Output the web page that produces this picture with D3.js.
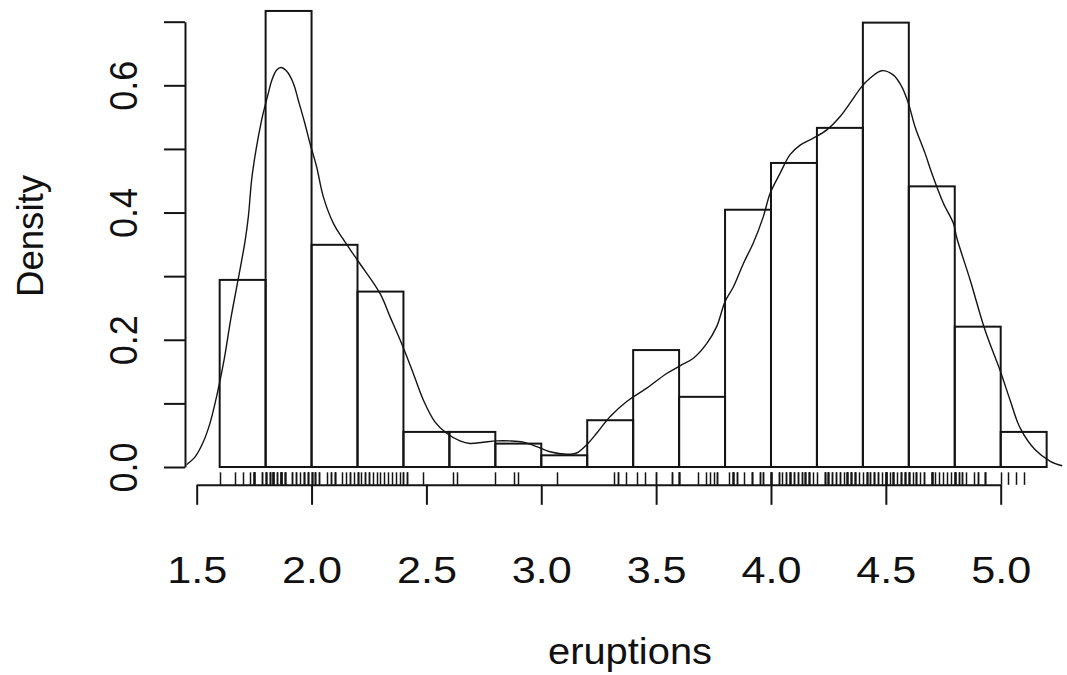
<!DOCTYPE html>
<html><head><meta charset="utf-8">
<script src="https://cdn.jsdelivr.net/npm/d3@7"></script>
<style>body{margin:0;background:#fff}svg{display:block}text{font-family:"Liberation Sans",Arial,sans-serif;fill:#111}</style>
</head><body>
<svg id="c" width="1067" height="675"></svg>
<script>
// Histogram breaks and densities
const breaks = [1.6,1.8,2.0,2.2,2.4,2.6,2.8,3.0,3.2,3.4,3.6,3.8,4.0,4.2,4.4,4.6,4.8,5.0,5.2];
const counts = [16,39,19,15,3,3,2,1,4,10,6,22,26,29,38,24,12,3];
const densities = counts.map(c => c / (272 * 0.2));
// density curve points
const curveX = [1.453,1.493,1.527,1.558,1.588,1.619,1.649,1.680,1.710,1.725,1.739,1.758,1.783,1.797,1.812,1.827,1.848,1.867,1.892,1.921,1.942,1.971,1.993,2.022,2.051,2.095,2.134,2.2,2.298,2.342,2.392,2.443,2.487,2.537,2.588,2.646,2.690,2.748,2.806,2.864,2.922,2.980,3.038,3.111,3.154,3.198,3.241,3.299,3.372,3.459,3.546,3.604,3.662,3.720,3.764,3.800,3.836,3.880,3.923,3.967,3.996,4.040,4.083,4.127,4.184,4.243,4.301,4.344,4.395,4.431,4.482,4.533,4.569,4.598,4.627,4.671,4.700,4.750,4.794,4.809,4.867,4.932,4.997,5.041,5.085,5.150,5.216,5.268];
const curveY = [0.003,0.016,0.038,0.069,0.113,0.168,0.234,0.294,0.354,0.394,0.451,0.498,0.546,0.567,0.588,0.608,0.624,0.628,0.622,0.603,0.577,0.540,0.509,0.472,0.425,0.383,0.360,0.325,0.273,0.236,0.194,0.147,0.105,0.071,0.053,0.041,0.037,0.039,0.041,0.041,0.039,0.032,0.024,0.020,0.022,0.035,0.053,0.079,0.103,0.124,0.147,0.159,0.171,0.194,0.221,0.260,0.283,0.320,0.352,0.394,0.430,0.462,0.491,0.506,0.517,0.530,0.551,0.572,0.598,0.611,0.623,0.616,0.598,0.572,0.535,0.493,0.462,0.415,0.383,0.360,0.294,0.215,0.152,0.105,0.061,0.027,0.009,0.002];
// rug: eruption durations (minutes)
const eruptions = [3.600,1.800,3.333,2.283,4.533,2.883,4.700,3.600,1.950,4.350,1.833,3.917,4.200,1.750,4.700,2.167,1.750,4.800,1.600,4.250,1.800,1.750,3.450,3.067,4.533,3.600,1.967,4.083,3.850,4.433,4.300,4.467,3.367,4.033,3.833,2.017,1.867,4.833,1.833,4.783,4.350,1.883,4.567,1.750,4.533,3.317,3.833,2.100,4.633,2.000,4.800,4.716,1.833,4.833,1.733,4.883,3.717,1.667,4.567,4.317,2.233,4.500,1.750,4.800,1.817,4.400,4.167,4.700,2.067,4.700,4.033,1.967,4.500,4.000,1.983,5.067,2.017,4.567,3.883,3.600,4.133,4.333,4.100,2.633,4.067,4.933,3.950,4.517,2.167,4.000,2.200,4.333,1.867,4.817,1.833,4.300,4.667,3.750,1.867,4.900,2.483,4.367,2.100,4.500,4.050,1.867,4.700,1.783,4.850,3.683,4.733,2.300,4.900,4.417,1.700,4.633,2.317,4.600,1.817,4.417,2.617,4.067,4.250,1.967,4.600,3.767,1.917,4.500,2.267,4.650,1.867,4.167,2.800,4.333,1.833,4.383,1.883,4.933,2.033,3.733,4.233,2.233,4.533,4.817,4.333,1.983,4.633,2.017,5.100,1.800,5.033,4.000,2.400,4.600,3.567,4.000,4.500,4.083,1.800,3.967,2.200,4.150,2.000,3.833,3.500,4.583,2.367,5.000,1.933,4.617,1.917,2.083,4.583,3.333,4.167,4.333,4.500,2.417,4.000,4.167,1.883,4.583,4.250,3.767,2.033,4.433,4.083,1.833,4.417,2.183,4.800,1.833,4.800,4.100,3.966,4.233,3.500,4.366,2.250,4.667,2.100,4.350,4.133,1.867,4.600,1.783,4.367,3.850,1.933,4.500,2.383,4.700,1.867,3.833,3.417,4.233,2.400,4.800,2.000,4.150,1.867,4.267,1.750,4.483,4.000,4.117,4.083,4.267,3.917,4.550,4.083,2.417,4.183,2.217,4.450,1.883,1.850,4.283,3.950,2.333,4.150,2.350,4.933,2.900,4.583,3.833,2.083,4.367,2.133,4.350,2.200,4.450,3.567,4.500,4.150,3.817,3.917,4.450,2.000,4.283,4.767,4.533,1.850,4.250,1.983,2.250,4.750,4.117,2.150,4.417,1.817,4.467];
const xTicks = [1.5,2.0,2.5,3.0,3.5,4.0,4.5,5.0];
const yTicks = [0,0.1,0.2,0.3,0.4,0.5,0.6,0.7];
const yLabels = ["0.0","0.2","0.4","0.6"];
const xTitle = "eruptions", yTitle = "Density";

const svg = d3.select("#c");
const x = d3.scaleLinear().domain([1.5,5.0]).range([196.7,1000.7]);
const y = d3.scaleLinear().domain([0,0.7]).range([467,21.7]);
const plotLeft = x(1.456), plotRight = x(5.344), plotBottom = y(-0.028);
const ink = "#141414";

svg.append("defs").append("clipPath").attr("id","clip").append("rect")
  .attr("x",plotLeft).attr("y",0).attr("width",plotRight-plotLeft).attr("height",plotBottom);

// bars
const bins = densities.map((d,i)=>({x0:breaks[i],x1:breaks[i+1],d}));
svg.append("g").selectAll("rect").data(bins).join("rect")
  .attr("x",b=>x(b.x0)).attr("y",b=>y(b.d))
  .attr("width",b=>x(b.x1)-x(b.x0)).attr("height",b=>y(0)-y(b.d))
  .attr("fill","none").attr("stroke",ink).attr("stroke-width",2);

// density curve
const line = d3.line().x((d,i)=>x(curveX[i])).y(d=>y(d)).curve(d3.curveCatmullRom);
svg.append("path").attr("clip-path","url(#clip)").attr("d",line(curveY))
  .attr("fill","none").attr("stroke",ink).attr("stroke-width",1.4);

// rug
svg.append("g").selectAll("line").data(eruptions).join("line")
  .attr("x1",v=>Math.round(x(v))+0.5).attr("x2",v=>Math.round(x(v))+0.5)
  .attr("y1",plotBottom).attr("y2",plotBottom-12.5)
  .attr("stroke",ink).attr("stroke-width",1.5);

// x axis
const xa = svg.append("g").attr("transform",`translate(0,${plotBottom})`)
  .call(d3.axisBottom(x).tickValues(xTicks).tickFormat(d3.format(".1f")).tickSize(20).tickSizeOuter(0));
xa.select(".domain").attr("stroke",ink).attr("stroke-width",2);
xa.selectAll(".tick line").attr("stroke",ink).attr("stroke-width",2);
xa.selectAll(".tick text").attr("font-size",36).attr("font-family","Liberation Sans, Arial, sans-serif")
  .attr("fill",ink).attr("y",98).attr("dy",0)
  .attr("textLength",60).attr("lengthAdjust","spacingAndGlyphs");

// y axis
const ya = svg.append("g").attr("transform",`translate(185,0)`)
  .call(d3.axisLeft(y).tickValues(yTicks).tickFormat(d=>{const s=d3.format(".1f")(d);return yLabels.includes(s)?s:"";}).tickSize(21).tickSizeOuter(0));
ya.select(".domain").attr("stroke",ink).attr("stroke-width",2);
ya.selectAll(".tick line").attr("stroke",ink).attr("stroke-width",2);
ya.selectAll(".tick text").attr("font-size",39).attr("font-family","Liberation Sans, Arial, sans-serif")
  .attr("fill",ink).attr("x",0).attr("dy",0).attr("text-anchor","middle")
  .attr("transform","translate(-48,0) rotate(-90)")
  .attr("textLength",function(){return this.textContent ? 50 : null;}).attr("lengthAdjust","spacingAndGlyphs");

// titles
svg.append("text").attr("x",630).attr("y",664).attr("text-anchor","middle").attr("font-size",37)
  .attr("textLength",164).attr("lengthAdjust","spacingAndGlyphs").text(xTitle);
svg.append("text").attr("transform","translate(43,236) rotate(-90)").attr("text-anchor","middle").attr("font-size",37)
  .attr("textLength",122).attr("lengthAdjust","spacingAndGlyphs").text(yTitle);
</script>
</body></html>
